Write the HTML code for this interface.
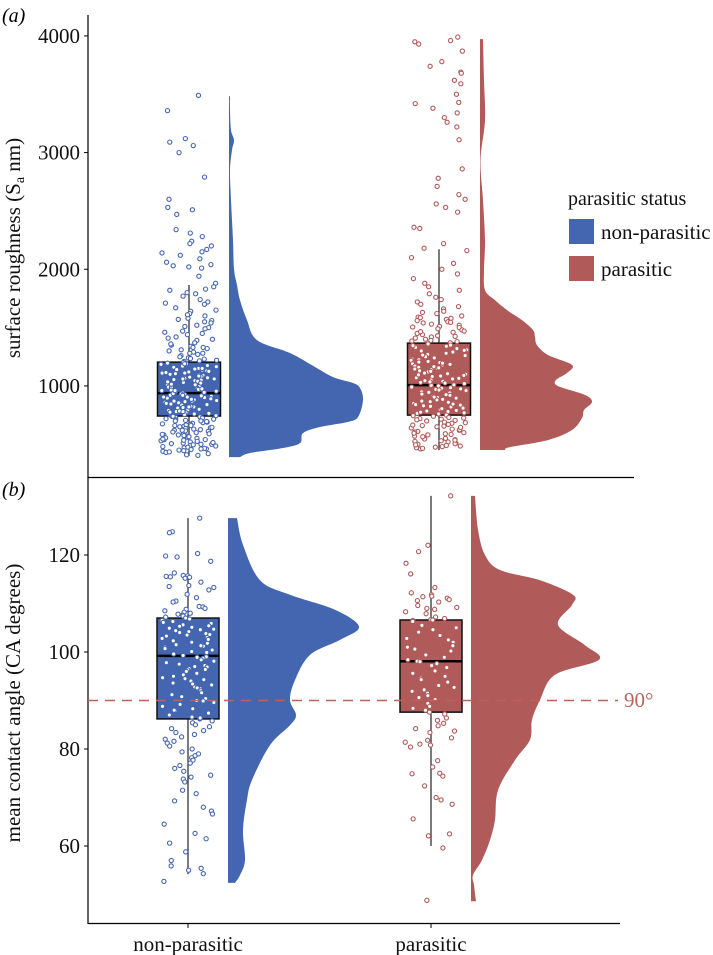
<!DOCTYPE html>
<html><head><meta charset="utf-8"><style>
body{margin:0;background:#fff}
svg{display:block;font-family:"Liberation Serif",serif}
</style></head><body>
<svg id="chart" width="713" height="955" viewBox="0 0 713 955">
<g id="layer"></g>
</svg>
<script>
// ===== Panel (a): surface roughness =====
const groupsA = ["non-parasitic","parasitic"];
const ticksA = [1000,2000,3000,4000];
const boxNonA = [400,742,938,1204,1865];   // whisker-low, Q1, median, Q3, whisker-high
const boxParA = [450,750,1007,1367,2172];
const densNonA_v = [390,425,468,510,596,648,690,733,879,982,1025,1076,1162,1282,1393,1564,1735,1864,2002,2250,2593,2850,3021,3107,3193,3364,3483];
const densNonA_d = [11,21,54,71,74,91,118,129,134,131,124,104,86,61,28,18,11,8,5,4,2,1,3,5,2,1,1];
const densParA_v = [451,476,536,622,725,793,862,922,999,1051,1111,1180,1265,1350,1419,1479,1564,1650,1735,1821,1992,2250,2593,2936,3278,3621,3972];
const densParA_d = [25,30,68,92,102,104,112,105,78,76,87,92,68,57,55,53,42,27,15,5,4,5,3,0.5,5,4,3];
const ptsNonA = [3490,3360,3120,3090,3060,3000,2790,2600,2530,2510,2470,2340,2310,2280,2240,2220,2200,2170,2150,2140,2120,2090,2060,2040,2030,2020,2010,1940,1880,
1850,1830,1820,1800,1790,1770,1740,1720,1710,1700,1670,1650,1640,1620,1600,1580,1570,1560,1540,1520,1500,1490,1470,1450,1440,1420,1400,1390,1370,1350,1340,1330,1320,1310,1300,1290,1280,1270,1260,1250,1240,1230,1220,1210,1200,1195,1190,1180,1170,1160,1150,1140,1130,1120,1110,1100,1095,1090,1080,1070,1060,1050,1045,1040,1030,1020,1010,1000,995,990,980,970,960,955,950,940,930,925,920,910,900,895,890,880,870,865,860,850,845,840,830,820,815,810,800,795,790,780,770,765,760,750,745,740,730,720,715,710,700,690,685,680,670,660,650,640,630,620,610,600,590,580,570,560,550,540,530,520,510,500,490,480,470,460,450,440,430,420,410,405,
1185,1165,1135,1105,1075,1055,1025,985,965,945,915,885,855,825,805,785,755,735,705,695,675,655,645,625,605,595,575,555,545,525,505,485,465,445,
1175,1145,1115,1085,1065,1035,1005,975,935,905,875,835,775,725,665,635,615,585,565,535,515,495,475,455,435,1280,1330,1360,1410,1460,1510,1550,1610,
1190,1150,1110,1060,1010,960,920,870,820,780,740,700,660,620,580,540,500,460,1235,1215,1125,1015,905,815];
const ptsParA = [3990,3960,3950,3930,3870,3780,3740,3690,3680,3620,3590,3500,3430,3420,3380,3340,3300,3260,3220,3110,2860,2780,2710,2640,2600,2560,2530,2490,2360,2350,2220,2180,
2160,2100,2050,2000,1960,1920,1880,1850,1820,1790,1760,1740,1720,1700,1680,1660,1640,1630,1620,1600,1590,1580,1570,1560,1550,1540,1530,1520,1510,1500,1490,1480,1470,1460,1450,1440,1430,1420,1410,1400,1390,1380,1370,1360,1350,1340,1330,1320,1310,1300,1290,1280,1270,1260,1250,1240,1230,1220,1210,1200,1190,1180,1170,1160,1150,1140,1130,1120,1110,1100,1090,1080,1070,1060,1050,1040,1030,1020,1010,1000,990,980,970,960,950,940,930,920,910,900,890,880,870,860,850,840,830,820,810,800,790,780,770,760,750,740,730,720,710,700,690,680,670,660,650,640,630,620,610,600,590,580,570,560,550,540,530,520,510,500,490,480,470,460,
1585,1545,1505,1465,1425,1385,1345,1305,1265,1225,1185,1145,1105,1065,1025,985,945,905,865,825,785,745,705,665,625,585,545,505,475,
1205,1165,1125,1085,1045,1005,965,925,885,845,805,765,725,685,645,605,565,525,495,465,
1195,1155,1095,1035,975,895,835,775,715,655,595,535,485];

// ===== Panel (b): contact angle =====
const ticksB = [60,80,100,120];
const boxNonB = [54.2,86.2,99.2,107.0,127.6];
const boxParB = [60,87.6,98.1,106.6,132.2];
const densNonB_v = [52.4,54.0,57.1,63.3,69.5,73.6,80.8,84.9,87.0,90.1,94.2,99.4,102.5,105.2,108.7,111.8,114.8,122.1,127.6];
const densNonB_d = [7,12,17,15,19,24,42,62,68,62,67,82,112,131,107,62,32,15,9];
const densParB_v = [48.6,51.9,54.0,57.1,61.2,65.4,71.5,77.7,81.9,86.0,90.1,95.3,98.4,101.4,105.6,109.7,111.8,114.8,116.9,120,125.2,132.2];
const densParB_d = [5,3,2,11,19,24,27,44,59,61,69,84,128,114,87,101,102,69,29,14,7,4];
const ptsNonB = [127.6,124.8,124.6,119.8,119.6,120.3,118.7,115.8,115.7,115.6,115.5,115.4,116.3,115.2,114.4,113.7,113.3,113.5,112.8,111.9,111.2,110.5,110.3,109.4,109.3,109.0,108.8,108.5,108.2,108.0,107.8,107.6,107.4,107.2,107.0,106.8,106.5,106.3,106.1,105.9,105.6,105.3,105.1,104.9,104.7,104.4,104.2,104.0,103.8,103.5,103.3,103.0,102.8,102.5,102.3,102.0,101.8,101.5,101.2,101.0,100.7,100.4,100.1,99.9,99.6,99.3,99.0,98.7,98.4,98.1,97.8,97.5,97.2,96.9,96.6,96.3,96.0,95.6,95.3,95.0,94.7,94.3,94.0,93.6,93.2,92.8,92.4,92.0,91.6,91.2,90.8,90.4,90.0,89.6,89.2,88.8,88.3,87.9,87.4,87.0,86.6,86.2,85.8,85.4,85.0,84.6,84.2,83.8,83.4,83.0,82.5,82.0,81.6,81.2,80.6,80.0,79.4,79.0,78.6,78.2,77.7,77.1,76.6,76.0,75.4,74.6,74.2,73.8,73.2,71.5,70.8,69.3,68.0,67.2,66.6,64.5,62.6,61.5,60.6,58.8,57.0,55.9,55.4,55.0,54.3,52.7,
105.4,103.6,101.3,98.9,96.4,94.5,92.6,89.9,88.0,86.4,104.6,102.6,97.0,93.4];
const ptsParB = [132.2,122.0,120.7,118.3,116.1,113.3,112.2,111.8,111.5,111.4,111.1,110.8,110.6,110.3,109.6,109.2,109.0,108.8,108.3,107.9,107.2,106.9,106.7,106.6,106.5,106.3,105.5,105.0,104.6,104.1,103.4,102.8,102.5,102.0,101.3,101.0,100.6,100.2,99.4,98.9,98.4,98.1,98.0,97.6,97.2,96.8,96.1,95.6,95.0,94.6,94.3,93.8,93.1,92.7,92.2,91.9,91.5,91.0,90.6,90.2,89.4,88.8,88.4,88.0,87.6,87.2,86.4,85.9,85.3,84.8,84.2,83.7,83.4,82.3,81.8,81.4,81.0,80.8,80.4,77.6,76.3,75.0,74.9,74.4,72.4,70.0,69.5,68.6,65.6,62.5,62.1,59.6,48.8];

const NS="http://www.w3.org/2000/svg";
const layer=document.getElementById('layer');
const BLUE="#4466b0", RED="#b05a5a";
function mk(tag,attrs,parent){const e=document.createElementNS(NS,tag);for(const k in attrs)e.setAttribute(k,attrs[k]);(parent||layer).appendChild(e);return e;}

const yA=v=>502.6-v*0.11667;
const yB=v=>652-(v-100)*4.85;

function jitter(i,n){
  let h=Math.imul(i+1+n*131,2654435761)>>>0;
  h=(h^(h>>>15))>>>0;
  h=Math.imul(h,2246822519)>>>0;
  h=(h^(h>>>13))>>>0;
  return (h%10007)/10006-0.5;
}

function smoothPath(P){
  let d=`M${P[0][0]},${P[0][1]}`;
  for(let i=0;i<P.length-1;i++){
    const p0=P[Math.max(0,i-1)],p1=P[i],p2=P[i+1],p3=P[Math.min(P.length-1,i+2)];
    const c1=[p1[0]+(p2[0]-p0[0])/6,p1[1]+(p2[1]-p0[1])/6];
    const c2=[p2[0]-(p3[0]-p1[0])/6,p2[1]-(p3[1]-p1[1])/6];
    d+=` C${c1[0]},${c1[1]} ${c2[0]},${c2[1]} ${p2[0]},${p2[1]}`;
  }
  return d;
}

function drawGroup(g,yf,cx,box,dv,dd,pts,color,dleft,dscale,halfW,jw,name){
  const grp=mk('g',{});
  
  
  const P=dv.map((v,i)=>[dleft+dd[i]*dscale,yf(v)]);
  let d=smoothPath(P)+` L${dleft},${yf(dv[dv.length-1])} L${dleft},${yf(dv[0])} Z`;
  const den=mk('path',{d:d,fill:color,stroke:'none'},grp);
  
  
  const wk=mk('line',{x1:cx,x2:cx,y1:yf(box[0]),y2:yf(box[4]),stroke:'#222','stroke-width':1.2},grp);
  
  
  const bx=mk('rect',{x:cx-halfW,y:yf(box[3]),width:halfW*2,height:yf(box[1])-yf(box[3]),fill:color,stroke:'#111','stroke-width':1.5},grp);
  
  
  const md=mk('line',{x1:cx-halfW,x2:cx+halfW,y1:yf(box[2]),y2:yf(box[2]),stroke:'#000','stroke-width':2.5},grp);
  
  
  pts.forEach((v,i)=>{
    const c=mk('circle',{cx:cx+jitter(i,pts.length)*jw*2,cy:yf(v),r:2.1,fill:'#fff',stroke:color,'stroke-width':1.1},grp);
    
    
  });
}

(function(){
  const ax=mk('g',{});
  
  
  mk('line',{x1:88,x2:88,y1:15,y2:478,stroke:'#000','stroke-width':1.2},ax);
  mk('line',{x1:88,x2:634,y1:477.5,y2:477.5,stroke:'#000','stroke-width':1.2},ax);
  ticksA.forEach(t=>{
    mk('line',{x1:84,x2:88,y1:yA(t),y2:yA(t),stroke:'#000'},ax);
    const tx=mk('text',{x:80,y:yA(t)+7,'text-anchor':'end','font-size':21,fill:'#111'},ax);
    tx.textContent=t;
    
    
  });
})();
drawGroup(0,yA,189,boxNonA,densNonA_v,densNonA_d,ptsNonA,BLUE,229,1,31.5,28,'non-parasitic-a');
drawGroup(1,yA,439,boxParA,densParA_v,densParA_d,ptsParA,RED,480,1,31.5,28,'parasitic-a');

(function(){
  const ax=mk('g',{});
  
  
  mk('line',{x1:88,x2:88,y1:477,y2:924,stroke:'#000','stroke-width':1.2},ax);
  mk('line',{x1:88,x2:620,y1:923.5,y2:923.5,stroke:'#000','stroke-width':1.2},ax);
  ticksB.forEach(t=>{
    mk('line',{x1:84,x2:88,y1:yB(t),y2:yB(t),stroke:'#000'},ax);
    const tx=mk('text',{x:80,y:yB(t)+7,'text-anchor':'end','font-size':21,fill:'#111'},ax);
    tx.textContent=t;
    
    
  });
  mk('line',{x1:188,x2:188,y1:923,y2:928,stroke:'#000'},ax);
  mk('line',{x1:431,x2:431,y1:923,y2:928,stroke:'#000'},ax);
})();
drawGroup(0,yB,188,boxNonB,densNonB_v,densNonB_d,ptsNonB,BLUE,228,1,31,26,'non-parasitic-b');
drawGroup(1,yB,431,boxParB,densParB_v,densParB_d,ptsParB,RED,471,1,31,26,'parasitic-b');
const ref=mk('line',{x1:88,x2:618,y1:yB(90),y2:yB(90),stroke:'#c0605a','stroke-width':1.6,'stroke-dasharray':'10,7'});


</script>
<script>
const svg=document.getElementById('chart');
svg.insertAdjacentHTML('beforeend',`
<text x="2" y="22" font-size="20" font-style="italic">(a)</text>
<text x="2" y="496" font-size="20" font-style="italic">(b)</text>
<text transform="translate(20,248) rotate(-90)" text-anchor="middle" font-size="21" fill="#111">surface roughness (S<tspan font-size="14" dy="4">a</tspan><tspan dy="-4"> nm)</tspan></text>
<text transform="translate(20,703) rotate(-90)" text-anchor="middle" font-size="21" fill="#111">mean contact angle (CA degrees)</text>
<text x="188" y="951" text-anchor="middle" font-size="21" fill="#111">non-parasitic</text>
<text x="431" y="951" text-anchor="middle" font-size="21" fill="#111">parasitic</text>
<text x="624" y="707" font-size="21" fill="#b86560">90°</text>
<g>
<text x="568" y="205" font-size="20" fill="#111">parasitic status</text>
<rect x="569" y="219" width="25" height="25" fill="#4466b0"/>
<text x="601" y="239" font-size="21" fill="#111">non-parasitic</text>
<rect x="569" y="256" width="25" height="25" fill="#b05a5a"/>
<text x="601" y="276" font-size="21" fill="#111">parasitic</text>
</g>`);
</script>
</body></html>
